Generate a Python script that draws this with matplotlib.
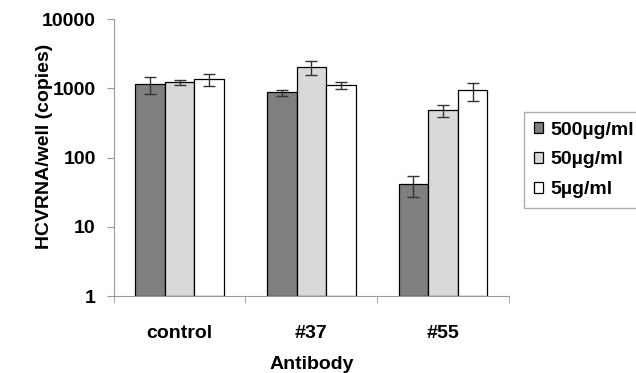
import matplotlib.pyplot as plt
import numpy as np
from matplotlib.ticker import FixedLocator, NullLocator, FixedFormatter

plt.rcParams['font.family'] = ['Liberation Sans', 'DejaVu Sans']
plt.rcParams['font.weight'] = 'bold'

# data
antibodies = ['control', '#37', '#55']
doses = ['500µg/ml', '50µg/ml', '5µg/ml']
vals_500 = [1140, 870, 40]
vals_50 = [1230, 2030, 480]
vals_5 = [1340, 1110, 930]
err_500 = [320, 90, 14]
err_50 = [100, 450, 100]
err_5 = [250, 120, 280]

colors = ['#7f7f7f', '#d9d9d9', '#ffffff']

fig = plt.figure(figsize=(6.36, 3.73), dpi=100)
ax = fig.add_axes([0.179, 0.206, 0.621, 0.743])

x = np.arange(len(antibodies))
w = 0.225
series = [(vals_500, err_500), (vals_50, err_50), (vals_5, err_5)]
for i, (v, e) in enumerate(series):
    ax.bar(x + (i - 1) * w, v, w, bottom=1, color=colors[i], edgecolor='black',
           linewidth=0.9, label=doses[i],
           yerr=e, error_kw=dict(ecolor='#333333', elinewidth=1, capsize=4, capthick=1))

ax.set_yscale('log')
ax.set_ylim(1, 10000)
ax.set_xlim(-0.5, 2.5)
ax.yaxis.set_major_locator(FixedLocator([1, 10, 100, 1000, 10000]))
ax.yaxis.set_major_formatter(FixedFormatter(['1', '10', '100', '1000', '10000']))
ax.yaxis.set_minor_locator(NullLocator())

ax.set_xticks(x)
ax.set_xticklabels(antibodies, fontsize=14, fontweight='bold')
ax.tick_params(axis='x', length=0, pad=21)
ax.set_xticks([-0.5, 0.5, 1.5, 2.5], minor=True)
ax.tick_params(axis='x', which='minor', length=5, color='#999999')
ax.tick_params(axis='y', length=5, color='#999999', labelsize=14, pad=8)
for lab in ax.get_yticklabels():
    lab.set_fontweight('bold')

for s in ['top', 'right']:
    ax.spines[s].set_visible(False)
for s in ['left', 'bottom']:
    ax.spines[s].set_color('#999999')

ax.set_xlabel('Antibody', fontsize=14, fontweight='bold')
ax.xaxis.set_label_coords(0.5, -0.215)
ax.set_ylabel('HCVRNA/well (copies)', fontsize=14, fontweight='bold')
ax.yaxis.set_label_coords(-0.155, 0.54)

fig.legend(loc='upper left', bbox_to_anchor=(524 / 636, 1 - 112 / 373),
           prop={'weight': 'bold', 'size': 14}, frameon=True, fancybox=False,
           edgecolor='#999999', handlelength=0.5, handleheight=0.5, handletextpad=0.35,
           borderpad=0.5, labelspacing=0.65, borderaxespad=0)

fig.savefig('out.png', dpi=100)
